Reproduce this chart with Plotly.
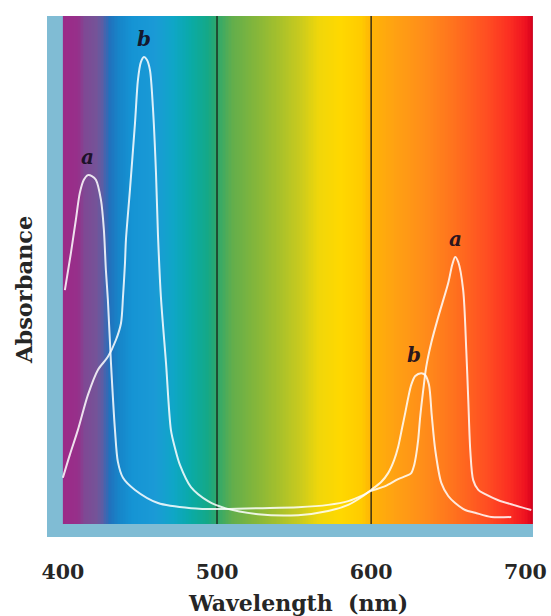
import numpy as np
import plotly.graph_objects as go

# ---- data ----
# chlorophyll a absorbance (relative units, b's blue peak = 1)
a_nm = [401.3, 405.2, 408.4, 411.0, 413.6, 416.2, 418.8, 421.4, 424.7, 426.6, 427.9, 429.2, 431.2,
        433.8, 435.7, 439.0, 446.8, 461.7, 483.1, 500.6, 526.6, 552.6, 572.1, 585.1, 594.8, 600.0,
        609.1, 617.5, 622.7, 626.0, 627.9, 629.2, 630.5, 631.8, 633.8, 635.7, 639.0, 643.5, 650.0,
        652.6, 654.5, 656.5, 659.7, 661.7, 663.0, 664.3, 666.2, 669.5, 674.0, 682.5, 692.2, 703.9]
a_abs = [0.501, 0.580, 0.651, 0.709, 0.737, 0.747, 0.745, 0.737, 0.694, 0.630, 0.544, 0.480, 0.345,
         0.201, 0.133, 0.099, 0.073, 0.045, 0.034, 0.032, 0.034, 0.036, 0.041, 0.049, 0.062, 0.071,
         0.081, 0.096, 0.103, 0.109, 0.126, 0.148, 0.180, 0.229, 0.287, 0.336, 0.388, 0.443, 0.516,
         0.555, 0.572, 0.561, 0.501, 0.373, 0.266, 0.158, 0.094, 0.073, 0.064, 0.051, 0.041, 0.030]

# chlorophyll b absorbance
b_nm = [400.0, 404.5, 409.7, 416.2, 422.7, 429.2, 434.4, 437.7, 439.0, 440.3, 440.9, 443.5, 446.8,
        448.7, 450.6, 452.6, 454.5, 456.5, 458.4, 460.4, 461.7, 463.6, 466.9, 470.1, 472.7, 476.0,
        483.1, 494.2, 505.2, 526.6, 552.6, 572.1, 585.1, 594.8, 600.0, 606.5, 611.0, 614.9, 617.5,
        620.1, 622.1, 624.0, 626.0, 628.6, 632.5, 635.0, 637.5, 639.3, 641.6, 645.5, 650.0, 654.5,
        661.0, 667.5, 677.9, 690.9]
b_abs = [0.099, 0.148, 0.201, 0.276, 0.330, 0.358, 0.394, 0.430, 0.486, 0.559, 0.608, 0.715, 0.859,
         0.951, 0.989, 1.000, 0.994, 0.972, 0.893, 0.752, 0.619, 0.486, 0.345, 0.201, 0.163, 0.126,
         0.079, 0.049, 0.034, 0.021, 0.019, 0.028, 0.041, 0.060, 0.073, 0.090, 0.109, 0.137, 0.165,
         0.206, 0.238, 0.270, 0.298, 0.317, 0.323, 0.319, 0.298, 0.233, 0.158, 0.088, 0.060, 0.045,
         0.030, 0.024, 0.015, 0.015]

# visible spectrum colours behind the plot
spectrum_nm = [400, 410, 414, 422, 426, 430, 436, 445, 460, 472, 484, 494, 500, 510, 525, 540,
               555, 566, 580, 594, 600, 615, 635, 655, 675, 690, 700, 705]
spectrum_col = ['#9c2a88', '#96308a', '#7f4894', '#745498', '#5a5ea6', '#2270bc', '#1784c8',
                '#1594d4', '#1a9ad6', '#0ea6c6', '#0aaaa4', '#14a886', '#2ea86c', '#62ae4c',
                '#84b63a', '#a6c02c', '#cccb1c', '#f0d60a', '#ffd800', '#ffca00', '#ffb406',
                '#ffa212', '#ff8c1a', '#ff701e', '#ff4e22', '#fb2e22', '#ee1220', '#d6001c']

divider_nm = [500, 600]
tick_vals = [400, 500, 600, 700]
tick_text = ['400', '500', '600', '700']

x_range = [389.7, 705.0]
y_range = [-0.0278, 1.0878]

SERIF = "DejaVu Serif"
TXT = "#262626"

fig = go.Figure()

# spectrum background as a one-row heatmap with bin edges
edges = np.arange(spectrum_nm[0], spectrum_nm[-1] + 1, 1.0)
centers = (edges[:-1] + edges[1:]) / 2
lo, hi = spectrum_nm[0], spectrum_nm[-1]
cscale = [[(w - lo) / (hi - lo), c] for w, c in zip(spectrum_nm, spectrum_col)]
fig.add_trace(go.Heatmap(
    x=edges, y=[0, y_range[1]], z=[centers], colorscale=cscale,
    zmin=lo, zmax=hi, showscale=False, hoverinfo="skip"))

for d in divider_nm:
    fig.add_trace(go.Scatter(x=[d, d], y=[0, y_range[1]], mode="lines",
                             line=dict(color="rgba(25,25,20,0.85)", width=1.5),
                             hoverinfo="skip", showlegend=False))

for xs, ys in [(a_nm, a_abs), (b_nm, b_abs)]:
    fig.add_trace(go.Scatter(x=xs, y=ys, mode="lines",
                             line=dict(color="rgba(255,255,255,0.85)", width=2,
                                       shape="spline", smoothing=0.8),
                             hoverinfo="skip", showlegend=False))

# curve labels above each peak
def peak(xs, ys, lo_, hi_):
    idx = [i for i, x in enumerate(xs) if lo_ <= x <= hi_]
    i = max(idx, key=lambda k: ys[k])
    return xs[i], ys[i]

labels = [("a", peak(a_nm, a_abs, 400, 450), 0), ("b", peak(b_nm, b_abs, 430, 480), 0),
          ("a", peak(a_nm, a_abs, 640, 680), 0), ("b", peak(b_nm, b_abs, 620, 645), -7)]
for txt, (px, py), dx in labels:
    fig.add_annotation(x=px, y=py, text=f"<b><i>{txt}</i></b>", showarrow=False,
                       yanchor="bottom", yshift=4, xshift=dx,
                       font=dict(family=SERIF, size=20, color="rgba(20,12,30,0.92)"))

fig.add_annotation(xref="paper", yref="paper", x=0.516, y=0, yshift=-66,
                   text="<b>Wavelength\u00a0\u00a0(nm)</b>", showarrow=False, yanchor="middle",
                   font=dict(family=SERIF, size=22, color=TXT))
fig.add_annotation(xref="paper", yref="paper", x=0, y=0.474, xshift=-23,
                   text="<b>Absorbance</b>", showarrow=False, textangle=-90,
                   xanchor="center", yanchor="middle",
                   font=dict(family=SERIF, size=22.5, color=TXT))

fig.update_layout(
    width=551, height=616,
    margin=dict(l=47, r=18, t=16, b=79),
    paper_bgcolor="white", plot_bgcolor="#80bcd4",
    showlegend=False,
    xaxis=dict(range=x_range, tickvals=tick_vals, ticktext=tick_text, showgrid=False,
               zeroline=False, showline=False, ticks="", ticklabelstandoff=20,
               automargin=False,
               tickfont=dict(family=SERIF, size=20.5, color=TXT, weight="bold")),
    yaxis=dict(range=y_range, showticklabels=False, showgrid=False, zeroline=False,
               showline=False, ticks="", automargin=False),
)

fig.write_html("out.html", config={"displayModeBar": False},
               post_script="document.body.style.margin='0';document.body.style.overflow='hidden';")
